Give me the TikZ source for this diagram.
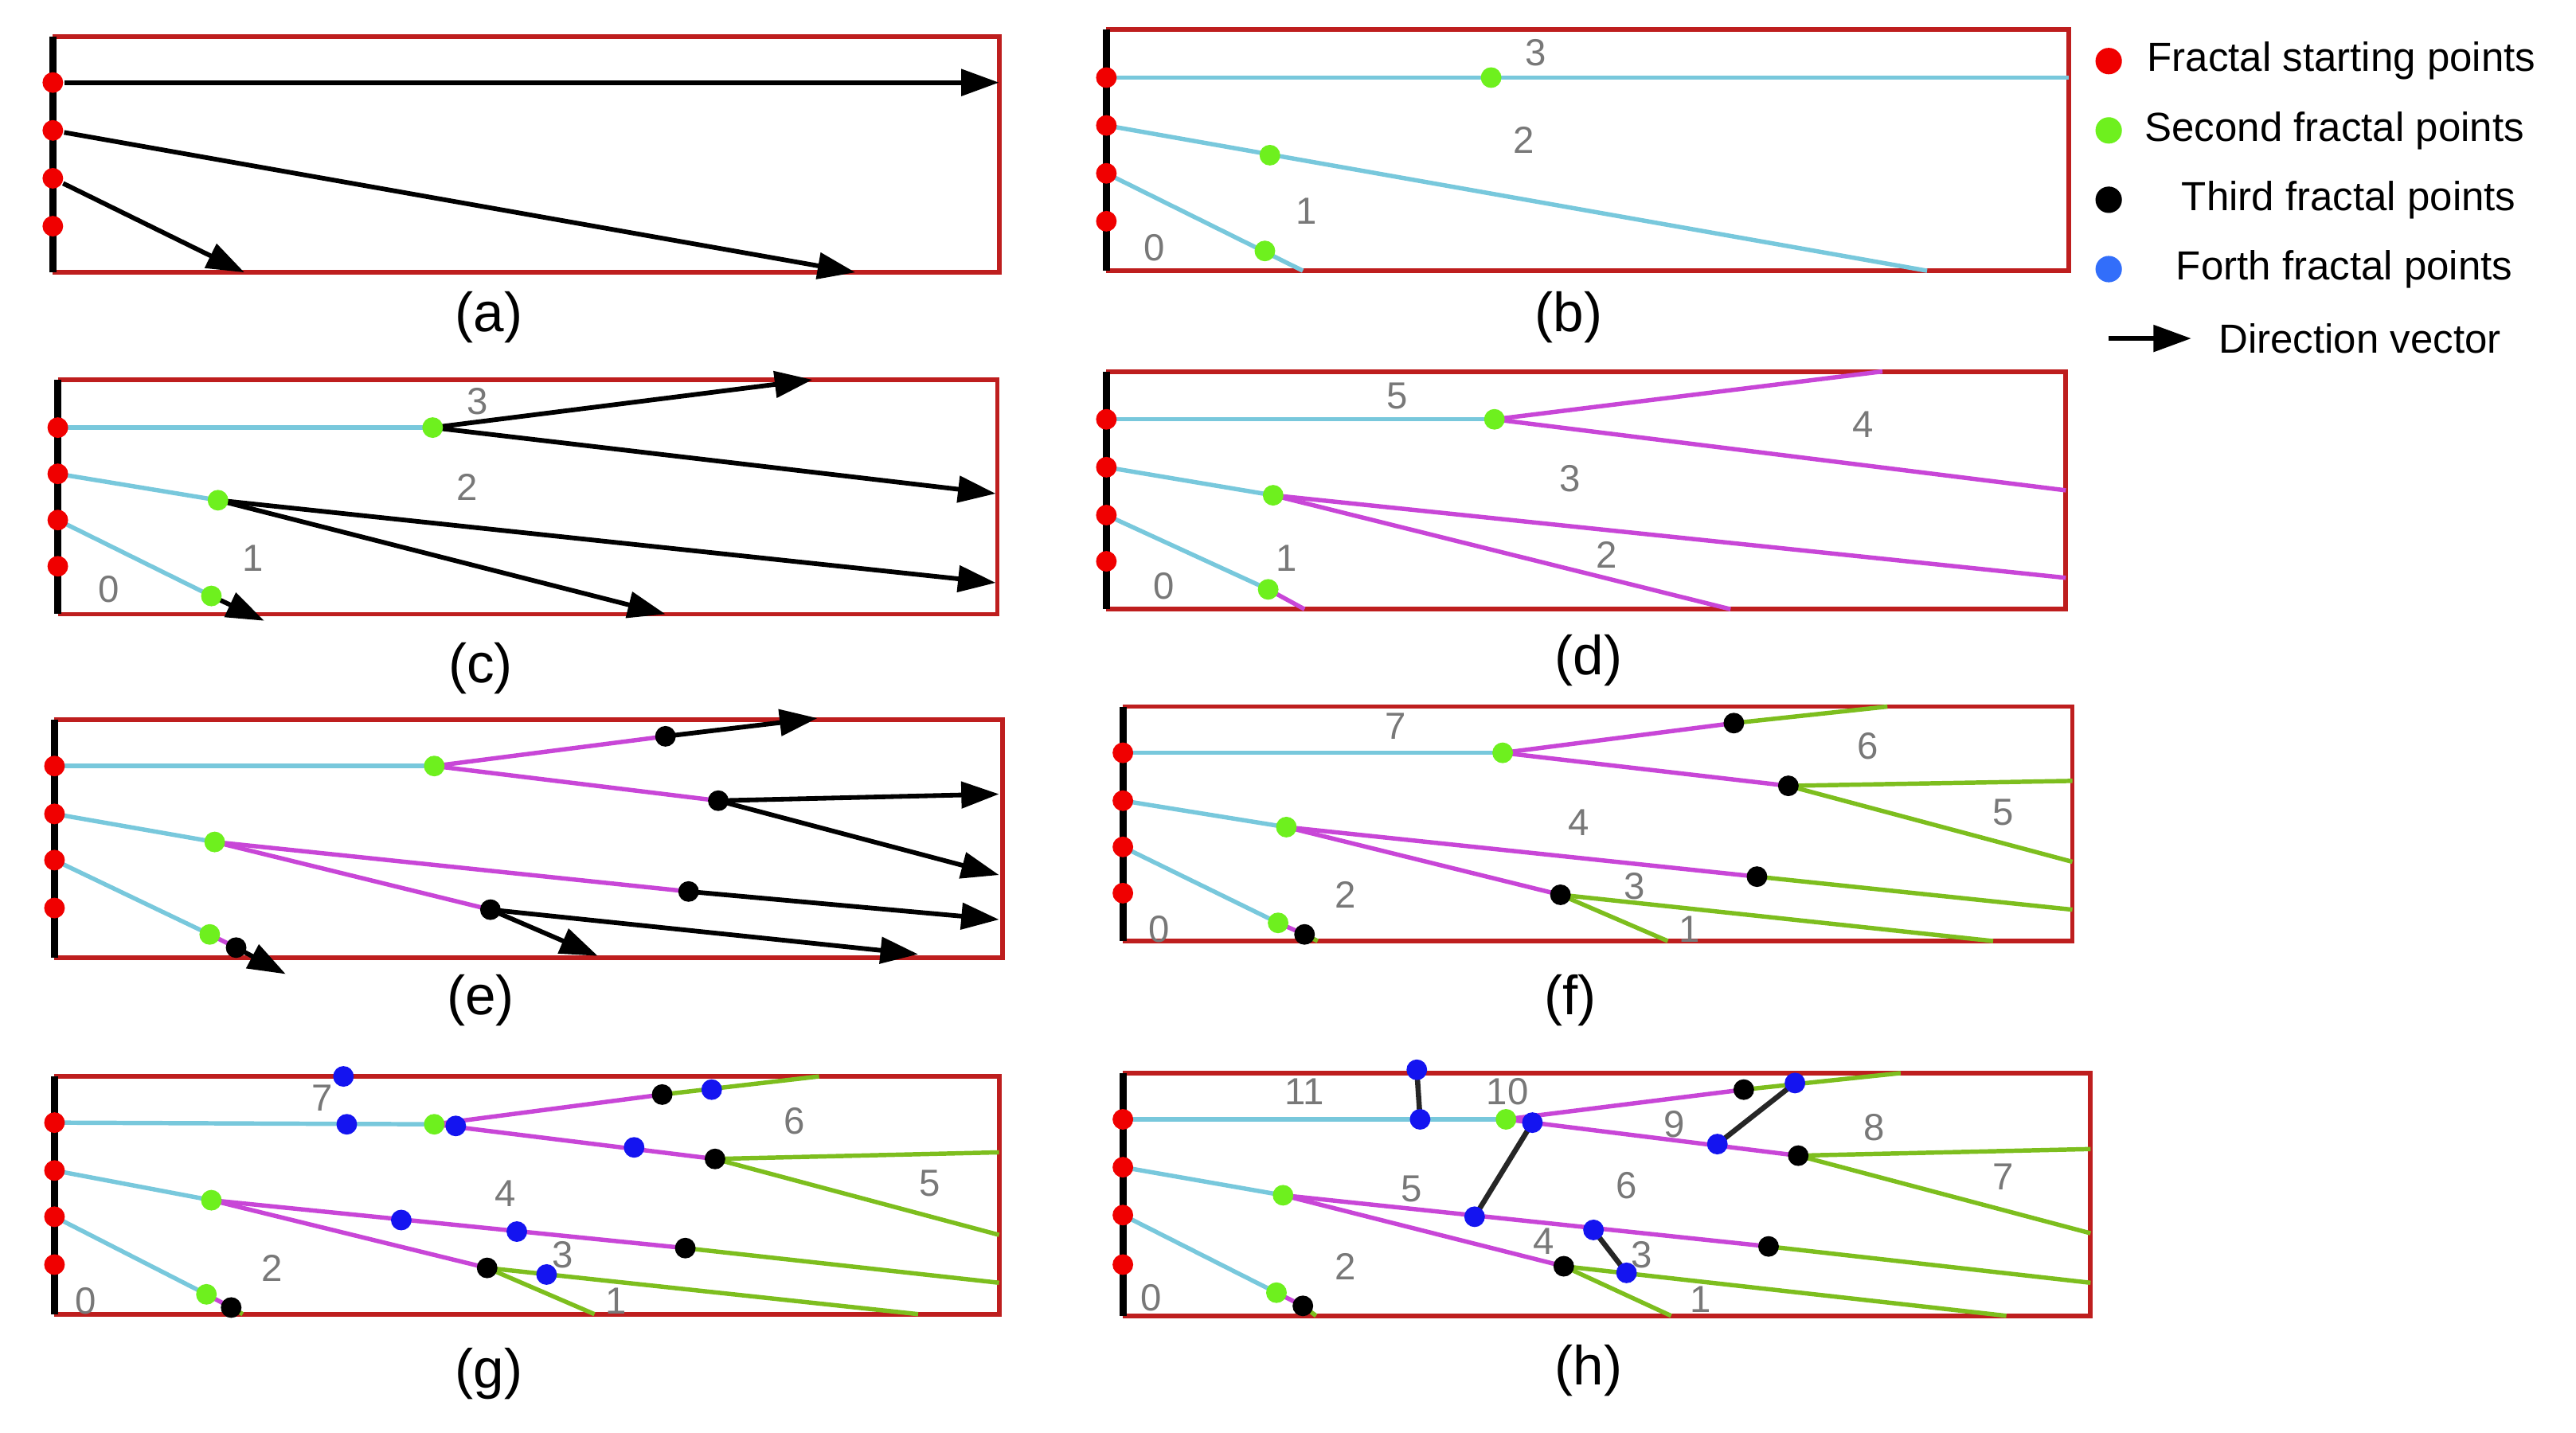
\documentclass[tikz,border=0pt]{standalone}
\usepackage{fontspec}
\setmainfont{Liberation Sans}
\usetikzlibrary{arrows.meta}
\definecolor{bred}{RGB}{190,30,30}
\definecolor{lcyan}{RGB}{120,200,220}
\definecolor{lmag}{RGB}{200,70,215}
\definecolor{lgrn}{RGB}{125,190,30}
\definecolor{dred}{RGB}{240,0,0}
\definecolor{dgrn}{RGB}{110,240,30}
\definecolor{dblu}{RGB}{20,20,240}
\definecolor{lblu}{RGB}{50,110,250}
\definecolor{numg}{RGB}{120,120,120}
\tikzset{
 frame/.style={bred,line width=0.8pt},
 wall/.style={black,line width=1.2pt},
 cy/.style={lcyan,line width=0.75pt},
 mg/.style={lmag,line width=0.75pt},
 gr/.style={lgrn,line width=0.75pt},
 vec/.style={black,line width=0.8pt,-{Triangle[length=6.5pt,width=4.5pt]}},
 link/.style={black!85,line width=0.9pt},
 dot/.style={circle,inner sep=0pt,minimum size=1.25mm},
 rd/.style={dot,fill=dred},
 gd/.style={dot,fill=dgrn},
 kd/.style={dot,fill=black},
 bd/.style={dot,fill=dblu},
 num/.style={text=numg,font=\fontsize{6.5}{8}\selectfont},
 captxt/.style={font=\fontsize{9.5}{11}\selectfont},
 leg/.style={font=\fontsize{7}{8.5}\selectfont}
}
\newcommand{\panel}[4]{\draw[frame] (#1,#2) -- (#3,#2) -- (#3,#4) -- (#1,#4);\draw[wall] (#1,#2) -- (#1,#4);}
\begin{document}
\begin{tikzpicture}[x=0.1mm,y=-0.1mm]
\useasboundingbox (0,0) rectangle (1560,868);
% (a)
\panel{32}{22}{605}{165}
\node[rd] (a1) at (32,50) {};\node[rd] (a2) at (32,79) {};\node[rd] (a3) at (32,108) {};\node[rd] (a4) at (32,137) {};
\coordinate (ae1) at (605,50);\coordinate (ae2) at (518,165);\coordinate (ae3) at (148,165);
\draw[vec] (a1) -- (ae1);\draw[vec] (a2) -- (ae2);\draw[vec] (a3) -- (ae3);
\node[captxt] at (296,192) {(a)};
% (b)
\panel{670}{18}{1253}{164}
\coordinate (b1) at (670,47);\coordinate (b2) at (670,76);\coordinate (b3) at (670,105);
\draw[cy] (b1) -- (1253,47);\draw[cy] (b2) -- (1167,164);\draw[cy] (b3) -- (789,164);
\node[rd] at (b1) {};\node[rd] at (b2) {};\node[rd] at (b3) {};\node[rd] at (670,134) {};
\node[gd] at (903,47) {};\node[gd] at (769,94) {};\node[gd] at (766,152) {};
\node[num] at (930,32) {3};\node[num] at (923,85) {2};\node[num] at (791,128) {1};\node[num] at (699,150) {0};
\node[captxt] at (950,192) {(b)};
% (c)
\panel{35}{230}{604}{372}
\coordinate (c1) at (35,259);\coordinate (c2) at (35,287);\coordinate (c3) at (35,315);
\coordinate (cg1) at (262,259);\coordinate (cg2) at (132,303);\coordinate (cg3) at (128,361);
\draw[cy] (c1) -- (cg1);\draw[cy] (c2) -- (cg2);\draw[cy] (c3) -- (cg3);
\draw[vec] (cg1) -- (492,230);\draw[vec] (cg1) -- (603,299);
\draw[vec] (cg2) -- (603,353);\draw[vec] (cg2) -- (403,372);
\draw[vec] (cg3) -- (160,376);
\node[rd] at (c1) {};\node[rd] at (c2) {};\node[rd] at (c3) {};\node[rd] at (35,343) {};
\node[gd] at (cg1) {};\node[gd] at (cg2) {};\node[gd] at (cg3) {};
\node[num] at (289,243) {3};\node[num] at (283,295) {2};\node[num] at (153,338) {1};\node[num] at (66,357) {0};
\node[captxt] at (291,405) {(c)};
% (d)
\panel{670}{225}{1251}{369}
\coordinate (d1) at (670,254);\coordinate (d2) at (670,283);\coordinate (d3) at (670,312);
\coordinate (dg1) at (905,254);\coordinate (dg2) at (771,300);\coordinate (dg3) at (768,357);
\draw[cy] (d1) -- (dg1);\draw[cy] (d2) -- (dg2);\draw[cy] (d3) -- (dg3);
\draw[mg] (dg1) -- (1140,225);\draw[mg] (dg1) -- (1251,297);
\draw[mg] (dg2) -- (1251,350);\draw[mg] (dg2) -- (1048,369);\draw[mg] (dg3) -- (790,369);
\node[rd] at (d1) {};\node[rd] at (d2) {};\node[rd] at (d3) {};\node[rd] at (670,340) {};
\node[gd] at (dg1) {};\node[gd] at (dg2) {};\node[gd] at (dg3) {};
\node[num] at (846,240) {5};\node[num] at (1128,257) {4};\node[num] at (951,290) {3};\node[num] at (973,336) {2};\node[num] at (779,338) {1};\node[num] at (705,355) {0};
\node[captxt] at (962,400) {(d)};
% (e)
\panel{33}{436}{607}{580}
\coordinate (e1) at (33,464);\coordinate (e2) at (33,493);\coordinate (e3) at (33,521);
\coordinate (eg1) at (263,464);\coordinate (eg2) at (130,510);\coordinate (eg3) at (127,566);
\coordinate (ek1) at (403,446);\coordinate (ek2) at (435,485);\coordinate (ek3) at (417,540);\coordinate (ek4) at (297,551);\coordinate (ek5) at (143,574);
\draw[cy] (e1) -- (eg1);\draw[cy] (e2) -- (eg2);\draw[cy] (e3) -- (eg3);
\draw[mg] (eg1) -- (ek1);\draw[mg] (eg1) -- (ek2);\draw[mg] (eg2) -- (ek3);\draw[mg] (eg2) -- (ek4);\draw[mg] (eg3) -- (ek5);
\draw[vec] (ek1) -- (495,435);\draw[vec] (ek2) -- (605,481);\draw[vec] (ek2) -- (605,530);
\draw[vec] (ek3) -- (605,557);\draw[vec] (ek4) -- (362,579);\draw[vec] (ek4) -- (556,578);\draw[vec] (ek5) -- (173,590);
\node[rd] at (e1) {};\node[rd] at (e2) {};\node[rd] at (e3) {};\node[rd] at (33,550) {};
\node[gd] at (eg1) {};\node[gd] at (eg2) {};\node[gd] at (eg3) {};
\foreach \p in {ek1,ek2,ek3,ek4,ek5} \node[kd] at (\p) {};
\node[captxt] at (291,606) {(e)};
% (f)
\panel{680}{428}{1255}{570}
\coordinate (f1) at (680,456);\coordinate (f2) at (680,485);\coordinate (f3) at (680,513);
\coordinate (fg1) at (910,456);\coordinate (fg2) at (779,501);\coordinate (fg3) at (774,559);
\coordinate (fk1) at (1050,438);\coordinate (fk2) at (1083,476);\coordinate (fk3) at (1064,531);\coordinate (fk4) at (945,542);\coordinate (fk5) at (790,566);
\draw[cy] (f1) -- (fg1);\draw[cy] (f2) -- (fg2);\draw[cy] (f3) -- (fg3);
\draw[mg] (fg1) -- (fk1);\draw[mg] (fg1) -- (fk2);\draw[mg] (fg2) -- (fk3);\draw[mg] (fg2) -- (fk4);\draw[mg] (fg3) -- (fk5);
\draw[gr] (fk1) -- (1143,428);\draw[gr] (fk2) -- (1255,473);\draw[gr] (fk2) -- (1255,522);\draw[gr] (fk3) -- (1255,551);
\draw[gr] (fk4) -- (1010,570);\draw[gr] (fk4) -- (1207,570);\draw[gr] (fk5) -- (798,570);
\node[rd] at (f1) {};\node[rd] at (f2) {};\node[rd] at (f3) {};\node[rd] at (680,541) {};
\node[gd] at (fg1) {};\node[gd] at (fg2) {};\node[gd] at (fg3) {};
\foreach \p in {fk1,fk2,fk3,fk4,fk5} \node[kd] at (\p) {};
\node[num] at (845,440) {7};\node[num] at (1131,452) {6};\node[num] at (1213,492) {5};\node[num] at (956,498) {4};\node[num] at (990,537) {3};\node[num] at (815,542) {2};\node[num] at (1023,563) {1};\node[num] at (702,563) {0};
\node[captxt] at (951,606) {(f)};
% (g)
\panel{33}{652}{605}{796}
\coordinate (g1) at (33,680);\coordinate (g2) at (33,709);\coordinate (g3) at (33,737);
\coordinate (gg1) at (263,681);\coordinate (gg2) at (128,727);\coordinate (gg3) at (125,784);
\coordinate (gk1) at (401,663);\coordinate (gk2) at (433,702);\coordinate (gk3) at (415,756);\coordinate (gk4) at (295,768);\coordinate (gk5) at (140,792);
\draw[cy] (g1) -- (gg1);\draw[cy] (g2) -- (gg2);\draw[cy] (g3) -- (gg3);
\draw[mg] (gg1) -- (gk1);\draw[mg] (gg1) -- (gk2);\draw[mg] (gg2) -- (gk3);\draw[mg] (gg2) -- (gk4);\draw[mg] (gg3) -- (gk5);
\draw[gr] (gk1) -- (496,652);\draw[gr] (gk2) -- (605,698);\draw[gr] (gk2) -- (605,748);\draw[gr] (gk3) -- (605,777);
\draw[gr] (gk4) -- (360,796);\draw[gr] (gk4) -- (556,796);\draw[gr] (gk5) -- (147,796);
\node[rd] at (g1) {};\node[rd] at (g2) {};\node[rd] at (g3) {};\node[rd] at (33,766) {};
\node[gd] at (gg1) {};\node[gd] at (gg2) {};\node[gd] at (gg3) {};
\foreach \p in {gk1,gk2,gk3,gk4,gk5} \node[kd] at (\p) {};
\foreach \x/\y in {208/652,210/681,276/682,384/695,431/660,243/739,313/746,331/772} \node[bd] at (\x,\y) {};
\node[num] at (195,665) {7};\node[num] at (481,679) {6};\node[num] at (563,717) {5};\node[num] at (306,723) {4};\node[num] at (341,760) {3};\node[num] at (165,768) {2};\node[num] at (373,788) {1};\node[num] at (52,788) {0};
\node[captxt] at (296,832) {(g)};
% (h)
\panel{680}{650}{1266}{797}
\coordinate (h1) at (680,678);\coordinate (h2) at (680,707);\coordinate (h3) at (680,736);
\coordinate (hg1) at (912,678);\coordinate (hg2) at (777,724);\coordinate (hg3) at (773,783);
\coordinate (hk1) at (1056,660);\coordinate (hk2) at (1089,700);\coordinate (hk3) at (1071,755);\coordinate (hk4) at (947,767);\coordinate (hk5) at (789,791);
\draw[cy] (h1) -- (hg1);\draw[cy] (h2) -- (hg2);\draw[cy] (h3) -- (hg3);
\draw[mg] (hg1) -- (hk1);\draw[mg] (hg1) -- (hk2);\draw[mg] (hg2) -- (hk3);\draw[mg] (hg2) -- (hk4);\draw[mg] (hg3) -- (hk5);
\draw[gr] (hk1) -- (1151,650);\draw[gr] (hk2) -- (1266,696);\draw[gr] (hk2) -- (1266,747);\draw[gr] (hk3) -- (1266,777);
\draw[gr] (hk4) -- (1012,797);\draw[gr] (hk4) -- (1215,797);\draw[gr] (hk5) -- (797,797);
\coordinate (hb1) at (858,648);\coordinate (hb2) at (860,678);\coordinate (hb3) at (928,680);\coordinate (hb4) at (893,737);
\coordinate (hb5) at (1040,693);\coordinate (hb6) at (1087,656);\coordinate (hb7) at (965,745);\coordinate (hb8) at (985,771);
\draw[link] (hb1) -- (hb2);\draw[link] (hb3) -- (hb4);\draw[link] (hb5) -- (hb6);\draw[link] (hb7) -- (hb8);
\node[rd] at (h1) {};\node[rd] at (h2) {};\node[rd] at (h3) {};\node[rd] at (680,766) {};
\node[gd] at (hg1) {};\node[gd] at (hg2) {};\node[gd] at (hg3) {};
\foreach \p in {hk1,hk2,hk3,hk4,hk5} \node[kd] at (\p) {};
\foreach \p in {hb1,hb2,hb3,hb4,hb5,hb6,hb7,hb8} \node[bd] at (\p) {};
\node[num] at (790,661) {11};\node[num] at (913,661) {10};\node[num] at (1014,681) {9};\node[num] at (1135,683) {8};\node[num] at (1213,713) {7};\node[num] at (985,718) {6};\node[num] at (855,720) {5};\node[num] at (935,752) {4};\node[num] at (994,760) {3};\node[num] at (815,767) {2};\node[num] at (1030,787) {1};\node[num] at (697,786) {0};
\node[captxt] at (962,830) {(h)};
% legend
\node[rd,minimum size=1.6mm] (l1) at (1277,37) {};\node[leg,anchor=east] at (1548,37) {Fractal starting points};
\node[gd,minimum size=1.6mm] (l2) at (1277,79) {};\node[leg,anchor=east] at (1541,79) {Second fractal points};
\node[kd,minimum size=1.6mm] (l3) at (1277,121) {};\node[leg,anchor=east] at (1536,121) {Third fractal points};
\node[dot,fill=lblu,minimum size=1.6mm] (l4) at (1277,163) {};\node[leg,anchor=east] at (1534,163) {Forth fractal points};
\coordinate (la) at (1277,205);\coordinate (lb) at (1327,205);
\draw[vec] (la) -- (lb);\node[leg,anchor=east] at (1527,205) {Direction vector};
\end{tikzpicture}
\end{document}
